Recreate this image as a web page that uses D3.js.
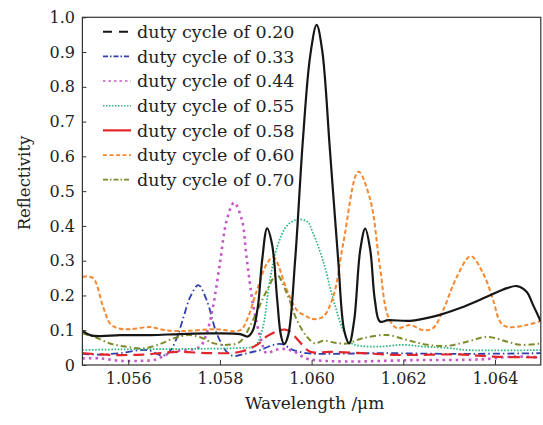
<!DOCTYPE html>
<html>
<head>
<meta charset="utf-8">
<script src="https://cdn.jsdelivr.net/npm/d3@7"></script>
<style>
  html, body { margin: 0; padding: 0; background: #fff; }
  svg { display: block; }
  text { font-family: "DejaVu Serif", serif; fill: #222; }
</style>
</head>
<body>
<svg id="chart" width="543" height="425"></svg>
<script>
// Reflectivity spectra of the grating for several duty cycles
const dutyLabels = ["0.20", "0.33", "0.44", "0.55", "0.58", "0.60", "0.70"];

// [wavelength (um), reflectivity]
const dc020 = [
  [1.05500,0.098],[1.05517,0.086],[1.05538,0.083],[1.05582,0.086],[1.05648,0.086],
  [1.05713,0.089],[1.05778,0.091],[1.05844,0.089],[1.05861,0.082],[1.05872,0.100],
  [1.05883,0.170],[1.05892,0.300],[1.05903,0.393],[1.05914,0.345],[1.05925,0.187],
  [1.05933,0.086],[1.05940,0.060],[1.05949,0.086],[1.05964,0.300],[1.05981,0.647],
  [1.05997,0.890],[1.06011,0.978],[1.06023,0.906],[1.06040,0.618],[1.06058,0.302],
  [1.06071,0.100],[1.06082,0.062],[1.06093,0.130],[1.06106,0.330],[1.06117,0.392],
  [1.06128,0.330],[1.06138,0.187],[1.06149,0.125],[1.06167,0.129],[1.06215,0.127],
  [1.06265,0.139],[1.06324,0.164],[1.06382,0.196],[1.06426,0.221],[1.06448,0.227],
  [1.06469,0.211],[1.06483,0.173],[1.06500,0.125]
];
const dc033 = [
  [1.05500,0.032],[1.05538,0.030],[1.05582,0.034],[1.05641,0.043],[1.05676,0.027],
  [1.05691,0.040],[1.05706,0.078],[1.05720,0.135],[1.05735,0.195],[1.05753,0.230],
  [1.05771,0.187],[1.05793,0.091],[1.05815,0.038],[1.05829,0.026],[1.05859,0.034],
  [1.05888,0.043],[1.05917,0.058],[1.05935,0.060],[1.05960,0.043],[1.05990,0.034],
  [1.06018,0.032],[1.06149,0.034],[1.06324,0.032],[1.06500,0.034]
];
const dc044 = [
  [1.05500,0.019],[1.05538,0.019],[1.05582,0.012],[1.05626,0.012],[1.05658,0.015],
  [1.05680,0.028],[1.05702,0.040],[1.05728,0.043],[1.05757,0.053],[1.05771,0.091],
  [1.05785,0.168],[1.05800,0.293],[1.05815,0.417],[1.05831,0.467],[1.05848,0.417],
  [1.05858,0.311],[1.05873,0.168],[1.05888,0.081],[1.05902,0.034],[1.05920,0.043],
  [1.05942,0.046],[1.05964,0.037],[1.05986,0.020],[1.06008,0.014],[1.06077,0.010],
  [1.06221,0.014],[1.06368,0.016],[1.06440,0.024],[1.06500,0.022]
];
const dc055 = [
  [1.05500,0.043],[1.05582,0.045],[1.05713,0.046],[1.05844,0.049],[1.05870,0.052],
  [1.05881,0.062],[1.05894,0.110],[1.05909,0.244],[1.05925,0.340],[1.05946,0.400],
  [1.05968,0.418],[1.05990,0.413],[1.06003,0.380],[1.06025,0.300],[1.06047,0.190],
  [1.06069,0.100],[1.06084,0.065],[1.06106,0.055],[1.06149,0.053],[1.06200,0.058],
  [1.06243,0.053],[1.06296,0.049],[1.06339,0.043],[1.06500,0.043]
];
const dc058 = [
  [1.05500,0.034],[1.05560,0.029],[1.05632,0.030],[1.05706,0.038],[1.05778,0.034],
  [1.05844,0.038],[1.05881,0.058],[1.05903,0.083],[1.05931,0.100],[1.05942,0.102],
  [1.05953,0.096],[1.05975,0.065],[1.05997,0.038],[1.06040,0.038],[1.06112,0.034],
  [1.06186,0.029],[1.06330,0.030],[1.06396,0.024],[1.06500,0.022]
];
const dc060 = [
  [1.05500,0.254],[1.05523,0.250],[1.05545,0.168],[1.05560,0.120],[1.05576,0.106],
  [1.05604,0.103],[1.05648,0.109],[1.05680,0.100],[1.05724,0.098],[1.05789,0.103],
  [1.05844,0.100],[1.05859,0.130],[1.05881,0.216],[1.05903,0.293],[1.05917,0.310],
  [1.05946,0.216],[1.05968,0.158],[1.05990,0.139],[1.06003,0.132],[1.06025,0.139],
  [1.06047,0.196],[1.06069,0.350],[1.06102,0.556],[1.06128,0.475],[1.06149,0.283],
  [1.06167,0.139],[1.06186,0.106],[1.06215,0.115],[1.06243,0.100],[1.06265,0.106],
  [1.06287,0.158],[1.06317,0.254],[1.06347,0.313],[1.06374,0.264],[1.06396,0.187],
  [1.06411,0.125],[1.06426,0.110],[1.06469,0.115],[1.06500,0.127]
];
const dc070 = [
  [1.05500,0.091],[1.05528,0.080],[1.05560,0.062],[1.05593,0.053],[1.05632,0.048],
  [1.05669,0.060],[1.05702,0.078],[1.05730,0.086],[1.05757,0.080],[1.05785,0.063],
  [1.05816,0.058],[1.05844,0.067],[1.05872,0.129],[1.05903,0.216],[1.05924,0.259],
  [1.05946,0.206],[1.05968,0.129],[1.05990,0.081],[1.06008,0.062],[1.06025,0.070],
  [1.06051,0.064],[1.06077,0.062],[1.06112,0.077],[1.06165,0.086],[1.06208,0.072],
  [1.06252,0.058],[1.06296,0.055],[1.06339,0.067],[1.06383,0.081],[1.06427,0.067],
  [1.06455,0.058],[1.06500,0.062]
];

const xTicks = [1.056, 1.058, 1.060, 1.062, 1.064];
const yTicks = [0, 0.1, 0.2, 0.3, 0.4, 0.5, 0.6, 0.7, 0.8, 0.9, 1.0];

// Per-series styling: plotted curve dash and legend sample dash
const series = [
  { name: dutyLabels[0], data: dc020, color: "#161616", width: 2.2, dash: null,          legendDash: "9,7",         legendWidth: 2 },
  { name: dutyLabels[1], data: dc033, color: "#2f3fae", width: 1.8, dash: "7,3,1.5,3",   legendDash: "5,2,1.5,2",   legendWidth: 1.6 },
  { name: dutyLabels[2], data: dc044, color: "#c455c8", width: 2.6, dash: "2.5,4",       legendDash: "2.5,3",       legendWidth: 1.6 },
  { name: dutyLabels[3], data: dc055, color: "#2cb67d", width: 1.7, dash: "1.6,1.6",     legendDash: "1.5,1.5",     legendWidth: 1.6 },
  { name: dutyLabels[4], data: dc058, color: "#e3262b", width: 2.2, dash: "11,6",        legendDash: null,          legendWidth: 2.2 },
  { name: dutyLabels[5], data: dc060, color: "#f7882f", width: 2.0, dash: "4.5,2.5",     legendDash: "4,2.5",       legendWidth: 1.8 },
  { name: dutyLabels[6], data: dc070, color: "#7f8a2b", width: 2.0, dash: "6,3,1.5,3",   legendDash: "5,2,1.5,2",   legendWidth: 1.8 }
];

const svg = d3.select("#chart");
const plotLeft = 82.4, plotRight = 540.8, plotTop = 17.3, plotBottom = 365;

const x = d3.scaleLinear().domain([1.055, 1.065]).range([plotLeft, plotRight]);
const y = d3.scaleLinear().domain([0, 1]).range([plotBottom, plotTop]);

svg.append("defs").append("clipPath").attr("id", "plotClip")
  .append("rect").attr("x", plotLeft).attr("y", plotTop)
  .attr("width", plotRight - plotLeft).attr("height", plotBottom - plotTop);

const line = d3.line()
  .x(d => x(d[0]))
  .y(d => y(d[1]))
  .curve(d3.curveCatmullRom.alpha(0.5));

const plot = svg.append("g").attr("clip-path", "url(#plotClip)");
// draw the black curve last so it sits on top
const drawOrder = [1, 2, 3, 4, 5, 6, 0];
drawOrder.forEach(i => {
  const s = series[i];
  plot.append("path")
    .attr("d", line(s.data))
    .attr("fill", "none")
    .attr("stroke", s.color)
    .attr("stroke-width", s.width)
    .attr("stroke-dasharray", s.dash)
    .attr("stroke-linejoin", "round");
});

// Axes (ticks point inward)
const xAxis = d3.axisBottom(x).tickValues(xTicks).tickSize(-5).tickPadding(8)
  .tickFormat(d3.format(".3f"));
const gx = svg.append("g").attr("transform", `translate(0,${plotBottom})`).call(xAxis);
gx.select(".domain").remove();
gx.selectAll("line").attr("stroke", "#333");
gx.selectAll("text").attr("font-size", 16).attr("font-family", "DejaVu Serif").attr("fill", "#222");

const yAxis = d3.axisLeft(y).tickValues(yTicks).tickSize(-4).tickPadding(7.4)
  .tickFormat(d => d === 0 ? "0" : d3.format(".1f")(d));
const gy = svg.append("g").attr("transform", `translate(${plotLeft},0)`).call(yAxis);
gy.select(".domain").remove();
gy.selectAll("line").attr("stroke", "#333");
gy.selectAll("text").attr("font-size", 16).attr("font-family", "DejaVu Serif").attr("fill", "#222");

// Frame
svg.append("rect")
  .attr("x", plotLeft).attr("y", plotTop)
  .attr("width", plotRight - plotLeft).attr("height", plotBottom - plotTop)
  .attr("fill", "none").attr("stroke", "#333").attr("stroke-width", 1.2);

// Axis titles
svg.append("text")
  .attr("x", 314.7).attr("y", 409)
  .attr("text-anchor", "middle")
  .attr("font-size", 17)
  .text("Wavelength /\u03bcm");

svg.append("text")
  .attr("transform", "translate(30,183) rotate(-90)")
  .attr("text-anchor", "middle")
  .attr("font-size", 16.5)
  .text("Reflectivity");

// Legend
const legend = svg.append("g");
series.forEach((s, i) => {
  const cy = 31.7 + i * 24.67;
  legend.append("line")
    .attr("x1", 103).attr("x2", 131)
    .attr("y1", cy).attr("y2", cy)
    .attr("stroke", s.color)
    .attr("stroke-width", s.legendWidth)
    .attr("stroke-dasharray", s.legendDash);
  legend.append("text")
    .attr("x", 137).attr("y", cy)
    .attr("dy", "0.36em")
    .attr("font-size", 17.5)
    .text("duty cycle of " + s.name);
});
</script>
</body>
</html>
